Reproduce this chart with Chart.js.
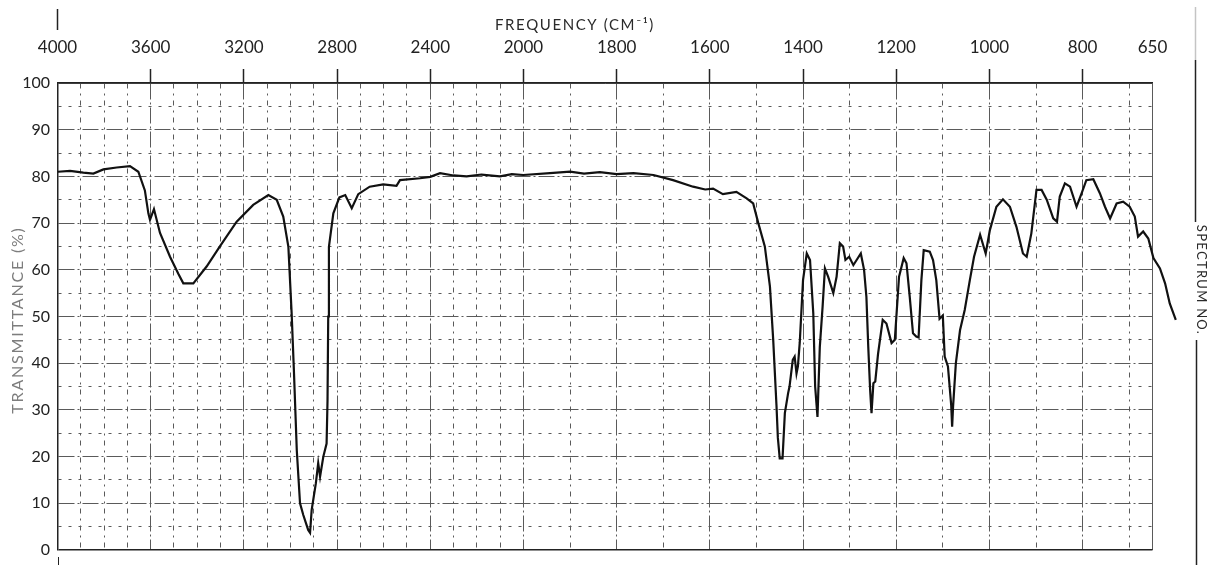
<!DOCTYPE html>
<html>
<head>
<meta charset="utf-8">
<title>Infrared spectrum</title>
<script src="https://cdn.jsdelivr.net/npm/chart.js@4.4.1/dist/chart.umd.min.js"></script>
<style>
  html, body { margin: 0; padding: 0; background: #ffffff; }
  #wrap { width: 1210px; height: 570px; }
</style>
</head>
<body>
<div id="wrap"><canvas id="chart" width="1210" height="570"></canvas></div>
<script>
// Spectrum trace: wavenumber (cm-1) and transmittance (%)
const wavenumbers = [
  3998, 3946, 3889, 3846, 3803, 3746, 3689, 3653, 3625, 3610, 3603, 3586, 3560, 3517, 3482, 3460,
  3417, 3360, 3303, 3231, 3160, 3095, 3059, 3031, 3009, 2995, 2985, 2973, 2959, 2945, 2924, 2916,
  2909, 2891, 2881, 2873, 2859, 2845, 2841, 2838, 2835, 2816, 2790, 2765, 2737, 2709, 2660, 2602,
  2545, 2530, 2444, 2400, 2358, 2300, 2244, 2180, 2101, 2050, 2001, 1943, 1900, 1870, 1836, 1800,
  1764, 1721, 1679, 1636, 1610, 1593, 1572, 1543, 1521, 1507, 1496, 1482, 1471, 1464, 1457, 1454,
  1450, 1444, 1439, 1432, 1429, 1422, 1418, 1414, 1411, 1407, 1400, 1392, 1385, 1378, 1374, 1369,
  1364, 1358, 1353, 1346, 1335, 1328, 1321, 1314, 1309, 1301, 1292, 1285, 1276, 1269, 1264, 1260,
  1256, 1253, 1249, 1245, 1239, 1229, 1221, 1210, 1203, 1194, 1184, 1178, 1171, 1164, 1157, 1152,
  1146, 1141, 1128, 1121, 1114, 1107, 1100, 1096, 1089, 1082, 1080, 1078, 1072, 1063, 1053, 1042,
  1033, 1020, 1008, 999, 985, 971, 956, 942, 928, 920, 910, 899, 888, 877, 863, 855,
  849, 838, 827, 813, 802, 792, 777, 763, 752, 741, 727, 713, 699, 688, 681, 670,
  659, 648, 634, 623, 613, 600
];
const transmittance = [
  81.0, 81.2, 80.8, 80.6, 81.5, 81.9, 82.2, 81.0, 77.0, 72.1, 70.7, 73.0, 67.9, 62.8, 59.2, 57.1,
  57.1, 60.7, 65.0, 70.3, 73.9, 76.0, 75.0, 71.4, 64.9, 50.7, 38.0, 21.4, 10.0, 7.5, 4.3, 3.7,
  8.6, 14.3, 18.6, 15.7, 20.0, 22.8, 32.0, 50.0, 64.9, 72.1, 75.5, 76.0, 73.2, 76.2, 77.8, 78.3,
  78.0, 79.2, 79.6, 79.9, 80.7, 80.2, 80.0, 80.4, 80.0, 80.5, 80.3, 80.7, 81.0, 80.6, 80.9, 80.5,
  80.7, 80.3, 79.2, 77.8, 77.2, 77.4, 76.2, 76.7, 75.3, 74.2, 70.0, 65.0, 56.4, 45.0, 31.0, 24.0,
  19.6, 19.6, 29.3, 33.6, 35.0, 40.7, 41.4, 37.8, 39.3, 44.5, 57.8, 63.5, 62.1, 50.7, 35.0, 28.5,
  43.5, 52.1, 60.3, 58.5, 55.0, 58.5, 65.7, 65.0, 62.1, 62.8, 61.0, 62.1, 63.5, 60.0, 54.2, 43.5,
  34.3, 29.3, 35.7, 36.1, 42.0, 49.3, 48.5, 44.3, 45.0, 58.5, 62.5, 61.4, 54.2, 46.4, 45.7, 45.5,
  57.8, 64.2, 63.9, 62.1, 57.8, 49.5, 50.2, 41.4, 39.3, 31.0, 26.4, 30.7, 40.0, 47.1, 51.4, 57.8,
  62.8, 67.5, 63.5, 68.5, 73.5, 75.1, 73.5, 69.2, 63.5, 62.8, 67.8, 77.1, 77.1, 75.0, 71.0, 70.3,
  75.7, 78.5, 77.8, 73.5, 76.4, 79.2, 79.4, 76.4, 73.5, 71.0, 74.2, 74.6, 73.5, 71.4, 67.1, 68.2,
  66.7, 62.5, 60.3, 57.1, 52.8, 49.3
];

// Labelled frequency ticks along the top axis
const tickLabels = [4000, 3600, 3200, 2800, 2400, 2000, 1800, 1600, 1400, 1200, 1000, 800, 650];

// Chart-paper rulings: every 100 cm-1, plus the 650 edge
const gridWavenumbers = [
  4000, 3900, 3800, 3700, 3600, 3500, 3400, 3300, 3200, 3100, 3000, 2900, 2800, 2700, 2600, 2500,
  2400, 2300, 2200, 2100, 2000, 1900, 1800, 1700, 1600, 1500, 1400, 1300, 1200, 1100, 1000, 900,
  800, 700, 650
];

// The frequency axis changes scale at 2000 cm-1 (400 per division above, 200 per division below)
function toPos(wn) {
  return wn >= 2000 ? (4000 - wn) / 400 : 5 + (2000 - wn) / 200;
}
function fromPos(p) {
  return p <= 5 ? 4000 - 400 * p : 2000 - 200 * (p - 5);
}
const X_MAX = toPos(650);

const points = wavenumbers.map((w, i) => ({ x: toPos(w), y: transmittance[i] }));

const isLabelled = (p) => tickLabels.some(w => Math.abs(toPos(w) - p) < 1e-6);
const isEdgeX = (p) => Math.abs(p) < 1e-6 || Math.abs(p - X_MAX) < 1e-6;

// Extra printed furniture of the chart sheet
const sheetDecor = {
  id: 'sheetDecor',
  afterDraw(chart) {
    const ctx = chart.ctx;
    ctx.save();

    // Frequency title
    ctx.fillStyle = '#2a2a2a';
    ctx.font = '15px Lato';
    ctx.letterSpacing = '1.6px';
    ctx.textAlign = 'center';
    ctx.textBaseline = 'middle';
    ctx.fillText('FREQUENCY (CM\u207B\u00B9)', 575, 25);

    // Transmittance title, rotated
    ctx.save();
    ctx.translate(18, 320);
    ctx.rotate(-Math.PI / 2);
    ctx.fillStyle = '#7d7d7d';
    ctx.font = '16px Lato';
    ctx.letterSpacing = '1.8px';
    ctx.fillText('TRANSMITTANCE (%)', 0, 0);
    ctx.restore();

    // Spectrum number field on the right margin
    ctx.save();
    ctx.translate(1201, 280);
    ctx.rotate(Math.PI / 2);
    ctx.fillStyle = '#2a2a2a';
    ctx.font = '13px Lato';
    ctx.letterSpacing = '1.3px';
    ctx.fillText('SPECTRUM NO.', 0, 0);
    ctx.restore();

    ctx.lineWidth = 1.5;
    ctx.strokeStyle = '#c4c4c4';
    ctx.beginPath(); ctx.moveTo(1195.5, 7); ctx.lineTo(1195.5, 60); ctx.stroke();
    ctx.strokeStyle = '#222';
    ctx.beginPath(); ctx.moveTo(1195.5, 60); ctx.lineTo(1195.5, 222); ctx.stroke();
    ctx.beginPath(); ctx.moveTo(1196.5, 340); ctx.lineTo(1196.5, 565); ctx.stroke();

    // Registration marks at the left edge
    ctx.lineWidth = 1.5;
    ctx.beginPath(); ctx.moveTo(57.5, 9); ctx.lineTo(57.5, 30); ctx.stroke();
    ctx.lineWidth = 1;
    ctx.beginPath(); ctx.moveTo(58.5, 557); ctx.lineTo(58.5, 565); ctx.stroke();

    ctx.restore();
  }
};

new Chart(document.getElementById('chart'), {
  type: 'line',
  data: {
    datasets: [{
      data: points,
      borderColor: '#111111',
      borderWidth: 2.2,
      pointRadius: 0,
      tension: 0,
      fill: false,
      clip: false
    }]
  },
  options: {
    responsive: false,
    animation: false,
    plugins: {
      legend: { display: false },
      tooltip: { enabled: false }
    },
    layout: { padding: { left: 0, right: 57.5, top: 0, bottom: 20 } },
    scales: {
      x: {
        type: 'linear',
        position: 'top',
        bounds: 'data',
        // the trace runs a little past the 650 edge of the sheet
        afterDataLimits: (scale) => { scale.min = 0; scale.max = X_MAX; },
        afterBuildTicks: (scale) => {
          scale.ticks = gridWavenumbers.map(w => ({ value: toPos(w) }));
        },
        afterFit: (scale) => { scale.height = 83; },
        ticks: {
          autoSkip: false,
          maxRotation: 0,
          padding: 11,
          color: '#222',
          font: { family: 'Lato', size: 17 },
          callback: (v) => {
            const w = Math.round(fromPos(v));
            return isLabelled(v) ? String(w) : '';
          }
        },
        grid: {
          color: '#5a5a5a',
          lineWidth: 1,
          drawTicks: true,
          tickLength: 14,
          tickWidth: 1.5,
          tickColor: (c) => (c.tick && isLabelled(c.tick.value) && !isEdgeX(c.tick.value)) ? '#222' : 'rgba(0,0,0,0)'
        },
        border: {
          display: true,
          color: '#222',
          width: 1.5,
          dash: (c) => {
            if (!c.tick) return [];
            const p = c.tick.value;
            if (isEdgeX(p)) return [];
            return isLabelled(p) ? [16, 3, 2, 3] : [5, 5, 2, 5];
          }
        }
      },
      y: {
        type: 'linear',
        min: 0,
        max: 100,
        afterFit: (scale) => { scale.width = 57.5; },
        ticks: {
          stepSize: 5,
          padding: 7.5,
          color: '#222',
          font: { family: 'Lato', size: 16 },
          callback: (v) => (v % 10 === 0 ? String(v) : '')
        },
        grid: {
          color: (c) => (c.tick && c.tick.value === 0) ? '#222' : '#5a5a5a',
          lineWidth: (c) => (c.tick && c.tick.value === 0) ? 1.5 : 1,
          drawTicks: false
        },
        border: {
          display: true,
          color: '#222',
          width: 1.5,
          dash: (c) => {
            if (!c.tick) return [];
            const v = c.tick.value;
            if (v === 0 || v === 100) return [];
            return v % 10 === 0 ? [16, 3, 2, 3] : [3, 7];
          }
        }
      }
    }
  },
  plugins: [sheetDecor]
});
</script>
</body>
</html>
